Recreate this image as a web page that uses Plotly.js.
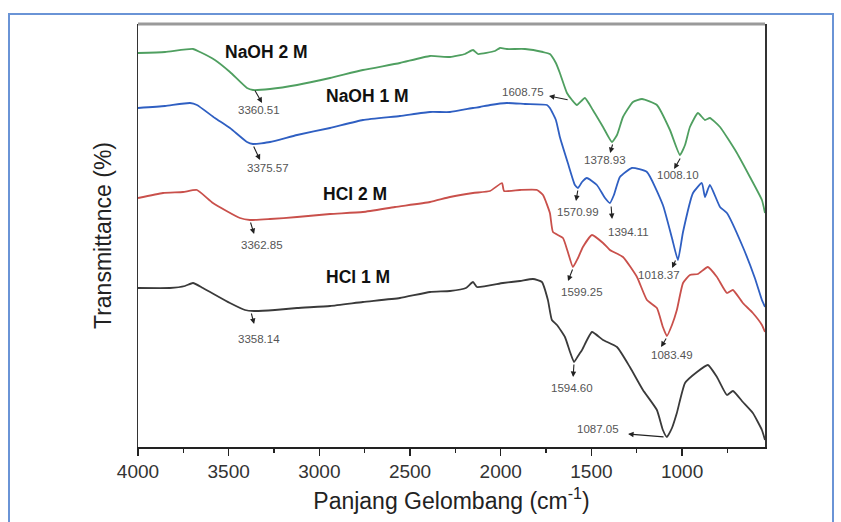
<!DOCTYPE html>
<html>
<head>
<meta charset="utf-8">
<script src="https://cdn.plot.ly/plotly-3.0.1.min.js"></script>
<style>
  html, body { margin:0; padding:0; background:#fff; }
  #wrap { position:relative; width:841px; height:522px; overflow:hidden; }
  #chart { position:absolute; left:0; top:0; width:841px; height:522px; }
  #frame { position:absolute; left:8px; top:13px; width:826px; height:530px; box-sizing:border-box;
           border:2px solid #6a94d6; border-bottom:none; pointer-events:none; }
</style>
</head>
<body>
<div id="wrap"><div id="chart"></div><div id="frame"></div></div>
<script>
// ---- Data (wavenumber cm-1, relative transmittance) ----
var wnNaOH2 = [4000,3851,3697,3658,3576,3493,3399,3366,3272,3123,2941,2760,2556,2390,2280,2197,2153,2126,2032,2004,1966,1866,1767,1729,1696,1674,1635,1607,1580,1536,1492,1436,1387,1359,1326,1271,1221,1139,1067,1012,984,957,913,874,847,791,698,626,560,543];
var tNaOH2  = [394,395,398,395,387,375,359,357,358,362,369,377,384,391,390,393,397,393,396,399,398,398,395,393,384,374,354,347,342,349,337,320,305,312,330,345,348,342,317,292,302,320,334,327,329,320,294,270,247,234];

var wnNaOH1 = [4000,3851,3713,3675,3576,3493,3399,3366,3272,3123,2941,2760,2556,2390,2280,2153,2115,2059,1966,1866,1745,1729,1696,1674,1630,1591,1574,1552,1525,1470,1425,1398,1376,1343,1277,1194,1106,1056,1023,995,940,891,874,847,791,753,665,599,560,543];
var tNaOH1  = [339,341,344,342,329,319,305,303,305,312,319,327,331,335,335,339,340,342,344,343,342,339,327,310,284,262,259,265,269,262,249,244,252,270,279,275,242,209,187,215,254,264,250,262,240,234,200,169,147,140];

var wnHCl2 = [4000,3862,3752,3675,3587,3438,3383,3272,3123,2941,2760,2583,2390,2280,2153,2059,1993,1982,1894,1800,1767,1729,1712,1657,1630,1602,1574,1547,1497,1436,1398,1326,1249,1194,1139,1106,1084,1056,1029,995,957,913,858,808,753,720,665,610,560,543];
var tHCl2  = [249,254,255,257,244,229,227,228,230,233,235,240,245,250,254,256,264,256,257,257,252,234,215,209,195,180,189,200,212,204,197,190,170,147,139,120,111,122,137,164,172,173,180,170,154,157,144,134,122,115];

var wnHCl1 = [4000,3824,3741,3697,3642,3493,3410,3360,3245,3123,2941,2760,2556,2390,2280,2192,2153,2131,1988,1894,1822,1773,1740,1718,1690,1646,1618,1596,1574,1552,1497,1436,1359,1288,1216,1139,1106,1084,1056,1029,984,918,858,808,753,720,665,610,560,543];
var tHCl1  = [159,159,161,164,159,144,137,136,137,139,141,145,149,155,156,159,165,160,164,166,168,165,147,127,122,110,95,85,91,97,115,107,100,80,57,37,17,10,19,34,64,75,82,70,52,56,45,34,17,7];

var seriesNames = ['NaOH 2 M','NaOH 1 M','HCl 2 M','HCl 1 M'];
var seriesColors = ['#4f9f60','#2f5fc2','#c9504b','#3a3a3a'];

// Peak labels (wavenumber text)
var peakLabels = ['3360.51','3375.57','3362.85','3358.14','1608.75','1378.93','1008.10','1570.99','1394.11','1018.37','1599.25','1083.49','1594.60','1087.05'];

var xs = [wnNaOH2, wnNaOH1, wnHCl2, wnHCl1];
var ys = [tNaOH2, tNaOH1, tHCl2, tHCl1];

var traces = xs.map(function(x, i){
  return {x:x, y:ys[i], type:'scatter', mode:'lines', name:seriesNames[i],
          line:{color:seriesColors[i], width:1.8, shape:'spline', smoothing:0.45}, hoverinfo:'skip'};
});

// label text positions and arrows (head near label, tail on the curve)
var labelPos = [[3333,337],[3283,279],[3316,202],[3333,108],[1877,355],[1425,287],[1022,272],[1574,235],[1298,215],[1127,172],[1552,155],[1055,92],[1607,59],[1464,18]];
var arrows = [ // [headX, headY, tailX, tailY]
  [3316,344,3360,358],[3327,287,3366,302],[3360,213,3382,226],[3360,123,3377,135],
  [1734,351,1623,347],[1397,294,1381,304],[1044,278,1006,290],[1585,246,1574,258],
  [1386,228,1392,242],[1055,179,1033,188],[1629,166,1601,179],[1116,100,1083,110],
  [1601,70,1596,84],[1298,13,1094,10]
];
var seriesLabelPos = [[3289,395],[2732,351],[2803,253],[2787,170]];

var annotations = [];
peakLabels.forEach(function(t, i){
  annotations.push({x:labelPos[i][0], y:labelPos[i][1], xref:'x', yref:'y', text:t, showarrow:false,
    font:{family:'Liberation Sans, Arial, sans-serif', size:11.5, color:'#555'}});
  var a = arrows[i];
  annotations.push({x:a[0], y:a[1], ax:a[2], ay:a[3], xref:'x', yref:'y', axref:'x', ayref:'y',
    text:'', showarrow:true, arrowhead:2, arrowsize:1, arrowwidth:1.1, arrowcolor:'#222', standoff:0, startstandoff:0});
});
seriesNames.forEach(function(n, i){
  annotations.push({x:seriesLabelPos[i][0], y:seriesLabelPos[i][1], xref:'x', yref:'y', text:'<b>'+n+'</b>',
    showarrow:false, font:{family:'Liberation Sans, Arial, sans-serif', size:17.5, color:'#111'}});
});

var layout = {
  width:841, height:522,
  margin:{l:138, r:76, t:24, b:75, pad:0},
  paper_bgcolor:'rgba(0,0,0,0)', plot_bgcolor:'#fff',
  showlegend:false,
  font:{family:'Liberation Sans, Arial, sans-serif', color:'#333'},
  xaxis:{range:[4000,543], tickmode:'array', tickvals:[4000,3500,3000,2500,2000,1500,1000],
         ticktext:['4000','3500','3000','2500','2000','1500','1000'],
         ticks:'outside', ticklen:7, tickwidth:1.3, tickcolor:'#222',
         minor:{tickmode:'array', tickvals:[3750,3250,2750,2250,1750,1250,750], ticks:'outside', ticklen:4, tickwidth:1.2, tickcolor:'#222', showgrid:false},
         showline:true, linecolor:'#222', linewidth:1.5, mirror:false, showgrid:false, zeroline:false,
         tickfont:{size:19, color:'#333'},
         title:{text:'Panjang Gelombang (cm<sup>-1</sup>)', font:{size:23, color:'#222'}, standoff:11}},
  yaxis:{range:[0,423], showticklabels:false, ticks:'', showgrid:false, zeroline:false,
         showline:true, linecolor:'#333', linewidth:1.5, mirror:true,
         title:{text:'Transmittance (%)', font:{size:23, color:'#222'}, standoff:18}},
  shapes:[{type:'line', xref:'paper', yref:'paper', x0:0, x1:1, y0:1, y1:1, line:{color:'#9a9a9a', width:3}}],
  annotations:annotations
};

Plotly.newPlot('chart', traces, layout, {staticPlot:true, displayModeBar:false});
</script>
</body>
</html>
